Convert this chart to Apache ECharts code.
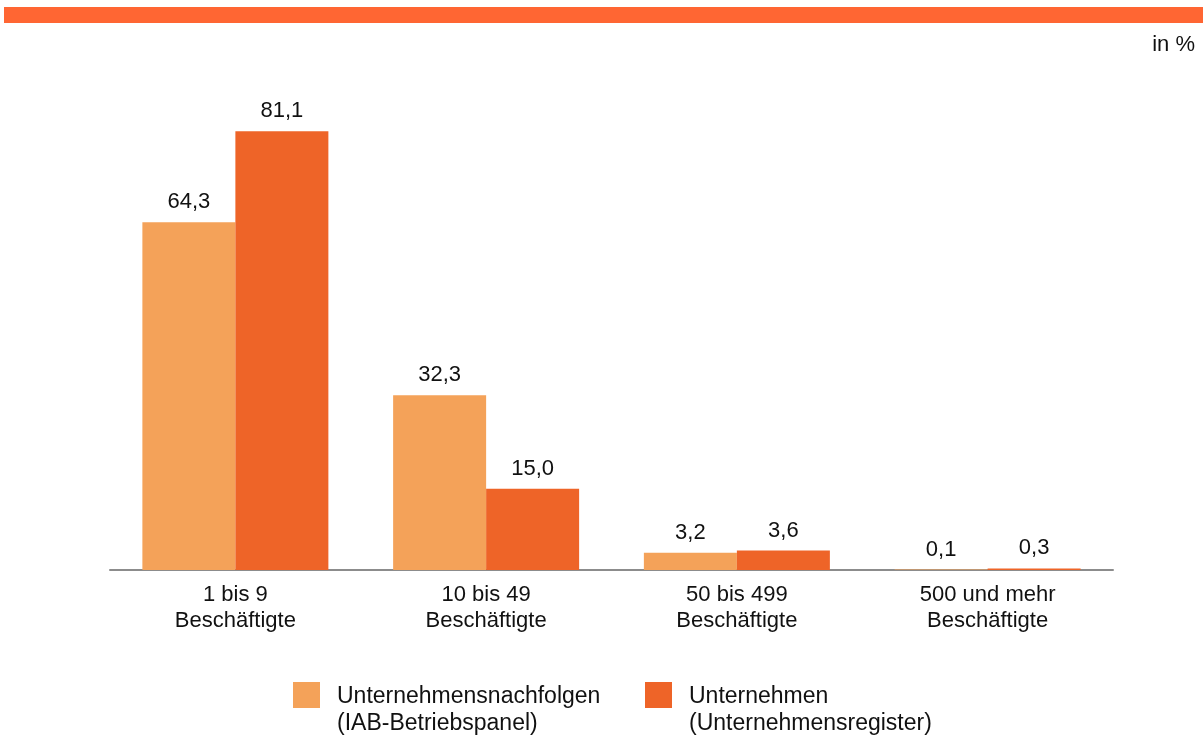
<!DOCTYPE html>
<html>
<head>
<meta charset="utf-8">
<style>
  html, body { margin: 0; padding: 0; background: #ffffff; }
  #chart { width: 1203px; height: 738px; }
</style>
<script src="https://cdn.jsdelivr.net/npm/echarts@6/dist/echarts.min.js"></script>
</head>
<body>
<div id="chart"></div>
<script>
const categories = ['1 bis 9\nBeschäftigte', '10 bis 49\nBeschäftigte', '50 bis 499\nBeschäftigte', '500 und mehr\nBeschäftigte'];
const seriesNames = ['Unternehmensnachfolgen (IAB-Betriebspanel)', 'Unternehmen (Unternehmensregister)'];
const legendLabels = ['Unternehmensnachfolgen\n(IAB-Betriebspanel)', 'Unternehmen\n(Unternehmensregister)'];
const nachfolgen = [64.3, 32.3, 3.2, 0.1];
const unternehmen = [81.1, 15.0, 3.6, 0.3];
const unitLabel = 'in %';
const colors = ['#F4A259', '#EE6428'];

const FONT = '"Liberation Sans", Arial, sans-serif';
const fmt = p => p.value.toFixed(1).replace('.', ',');

const legendX = [293, 645];
const legendGraphics = [];
legendLabels.forEach((lbl, i) => {
  legendGraphics.push({ type: 'rect', left: legendX[i], top: 682, shape: { width: 27, height: 26 }, style: { fill: colors[i] } });
  legendGraphics.push({ type: 'text', left: legendX[i] + 44, top: 683, style: { text: lbl, font: '23px ' + FONT, lineHeight: 27, fill: '#111111' } });
});

const chart = echarts.init(document.getElementById('chart'), null, { renderer: 'canvas' });
chart.setOption({
  animation: false,
  backgroundColor: '#ffffff',
  textStyle: { fontFamily: FONT },
  graphic: [
    { type: 'rect', left: 4, top: 7, shape: { width: 1199, height: 16 }, style: { fill: '#FF6633' } },
    { type: 'text', right: 8, top: 34, style: { text: unitLabel, font: '22px ' + FONT, fill: '#111111' } }
  ].concat(legendGraphics),
  grid: { left: 110, right: 90, top: 29, bottom: 168 },
  xAxis: {
    type: 'category',
    data: categories,
    axisLine: { show: true, lineStyle: { color: '#8c8c8c', width: 2 } },
    axisTick: { show: false },
    axisLabel: { fontSize: 22, lineHeight: 26, color: '#111111', margin: 12, fontFamily: FONT, interval: 0 }
  },
  yAxis: {
    type: 'value', min: 0, max: 100,
    show: false,
    splitLine: { show: false }
  },
  series: [
    {
      name: seriesNames[0], type: 'bar', data: nachfolgen,
      barWidth: 93, barGap: '0%',
      itemStyle: { color: colors[0] },
      label: { show: true, position: 'top', distance: 9, formatter: fmt, fontSize: 22, color: '#111111', fontFamily: FONT }
    },
    {
      name: seriesNames[1], type: 'bar', data: unternehmen,
      barWidth: 93,
      itemStyle: { color: colors[1] },
      label: { show: true, position: 'top', distance: 9, formatter: fmt, fontSize: 22, color: '#111111', fontFamily: FONT }
    }
  ]
});
</script>
</body>
</html>
